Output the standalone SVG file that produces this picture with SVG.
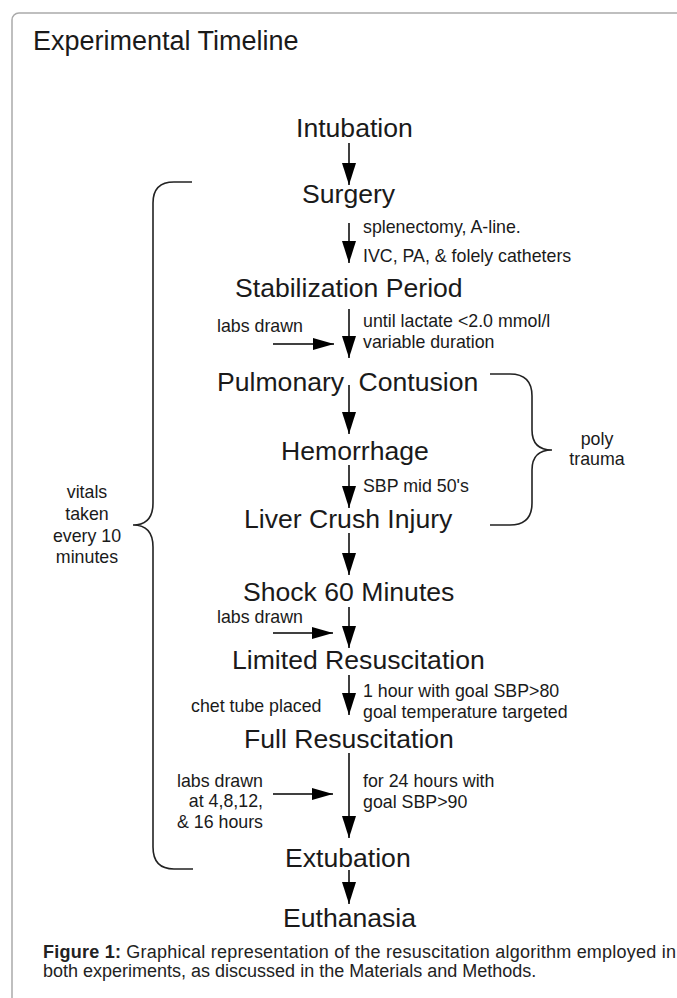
<svg xmlns="http://www.w3.org/2000/svg" width="677" height="998" viewBox="0 0 677 998">
<style>
text{font-family:"Liberation Sans",Arial,sans-serif;fill:#1a1a1a}
.title{font-size:27px}
.node{font-size:26.6px}
.lbl{font-size:17.8px}
.cap{font-size:18px;fill:#222}
.conn line{stroke:#000;stroke-width:1.5}
.v{marker-end:url(#ahV)}
.h{marker-end:url(#ahH)}
.brace{fill:none;stroke:#222;stroke-width:1.6}
</style>
<defs>
<marker id="ahV" markerUnits="userSpaceOnUse" markerWidth="22" markerHeight="14" refX="22" refY="7" orient="auto"><path d="M0,0 L22,7 L0,14 Z" fill="#000"/></marker>
<marker id="ahH" markerUnits="userSpaceOnUse" markerWidth="21" markerHeight="12" refX="21" refY="6" orient="auto"><path d="M0,0 L21,6 L0,12 Z" fill="#000"/></marker>
</defs>
<rect width="677" height="998" fill="#fff"/>
<rect x="12" y="13" width="720" height="1020" rx="7" fill="none" stroke="#aaa" stroke-width="1.5"/>
<text class="title" x="33" y="50">Experimental Timeline</text>

<g id="intubation"><text class="node" x="296" y="137">Intubation</text></g>
<g id="surgery"><text class="node" x="302" y="203">Surgery</text></g>
<g id="stabilization"><text class="node" x="235" y="297">Stabilization Period</text></g>
<g id="pulmonary"><text class="node" x="217" y="391" word-spacing="7">Pulmonary Contusion</text></g>
<g id="hemorrhage"><text class="node" x="281" y="460">Hemorrhage</text></g>
<g id="liver"><text class="node" x="244" y="528">Liver Crush Injury</text></g>
<g id="shock"><text class="node" x="243" y="601">Shock 60 Minutes</text></g>
<g id="limited"><text class="node" x="232" y="669">Limited Resuscitation</text></g>
<g id="full"><text class="node" x="244" y="748">Full Resuscitation</text></g>
<g id="extubation"><text class="node" x="285" y="867">Extubation</text></g>
<g id="euthanasia"><text class="node" x="283" y="927">Euthanasia</text></g>

<g id="labels">
<text class="lbl" x="363" y="233">splenectomy, A-line.</text>
<text class="lbl" x="363" y="262">IVC, PA, &amp; folely catheters</text>
<text class="lbl" x="217" y="332">labs drawn</text>
<text class="lbl" x="363" y="327">until lactate &lt;2.0 mmol/l</text>
<text class="lbl" x="363" y="348">variable duration</text>
<text class="lbl" x="363" y="492">SBP mid 50's</text>
<text class="lbl" x="217" y="623">labs drawn</text>
<text class="lbl" x="191" y="712">chet tube placed</text>
<text class="lbl" x="363" y="697">1 hour with goal SBP&gt;80</text>
<text class="lbl" x="363" y="718">goal temperature targeted</text>
<text class="lbl" x="263" y="787" text-anchor="end">labs drawn</text>
<text class="lbl" x="263" y="807" text-anchor="end">at 4,8,12,</text>
<text class="lbl" x="263" y="828" text-anchor="end">&amp; 16 hours</text>
<text class="lbl" x="363" y="787">for 24 hours with</text>
<text class="lbl" x="363" y="808">goal SBP&gt;90</text>
<text class="lbl" x="597" y="445" text-anchor="middle">poly</text>
<text class="lbl" x="597" y="465" text-anchor="middle">trauma</text>
<text class="lbl" x="87" y="498" text-anchor="middle">vitals</text>
<text class="lbl" x="87" y="520" text-anchor="middle">taken</text>
<text class="lbl" x="87" y="542" text-anchor="middle">every 10</text>
<text class="lbl" x="87" y="563" text-anchor="middle">minutes</text>
</g>

<g id="connectors" class="conn">
<line class="v" x1="349" y1="143" x2="349" y2="185"/>
<line class="v" x1="349" y1="223" x2="349" y2="263"/>
<line class="v" x1="349" y1="309" x2="349" y2="358"/>
<line class="v" x1="349" y1="385" x2="349" y2="434"/>
<line class="v" x1="349" y1="465" x2="349" y2="508"/>
<line class="v" x1="349" y1="533" x2="349" y2="575"/>
<line class="v" x1="349" y1="607" x2="349" y2="648"/>
<line class="v" x1="349" y1="675" x2="349" y2="715"/>
<line class="v" x1="349" y1="753" x2="349" y2="838"/>
<line class="v" x1="349" y1="870" x2="349" y2="904"/>
<line class="h" x1="273" y1="344" x2="334" y2="344"/>
<line class="h" x1="273" y1="633" x2="333" y2="633"/>
<line class="h" x1="273" y1="794" x2="333" y2="794"/>
</g>

<g id="braces">
<path class="brace" d="M192,182 H174 Q153,182 153,203 V503 Q153,525 133,525 Q153,525 153,547 V847 Q153,869 174,869 H193"/>
<path class="brace" d="M490,374 H510 Q532,374 532,396 V430 Q532,450 552,450 Q532,450 532,470 V503 Q532,525 510,525 H490"/>
</g>

<g id="caption">
<text class="cap" x="43" y="958" textLength="633" lengthAdjust="spacing"><tspan font-weight="bold">Figure 1:</tspan> Graphical representation of the resuscitation algorithm employed in</text>
<text class="cap" x="43" y="977">both experiments, as discussed in the Materials and Methods.</text>
</g>
</svg>
